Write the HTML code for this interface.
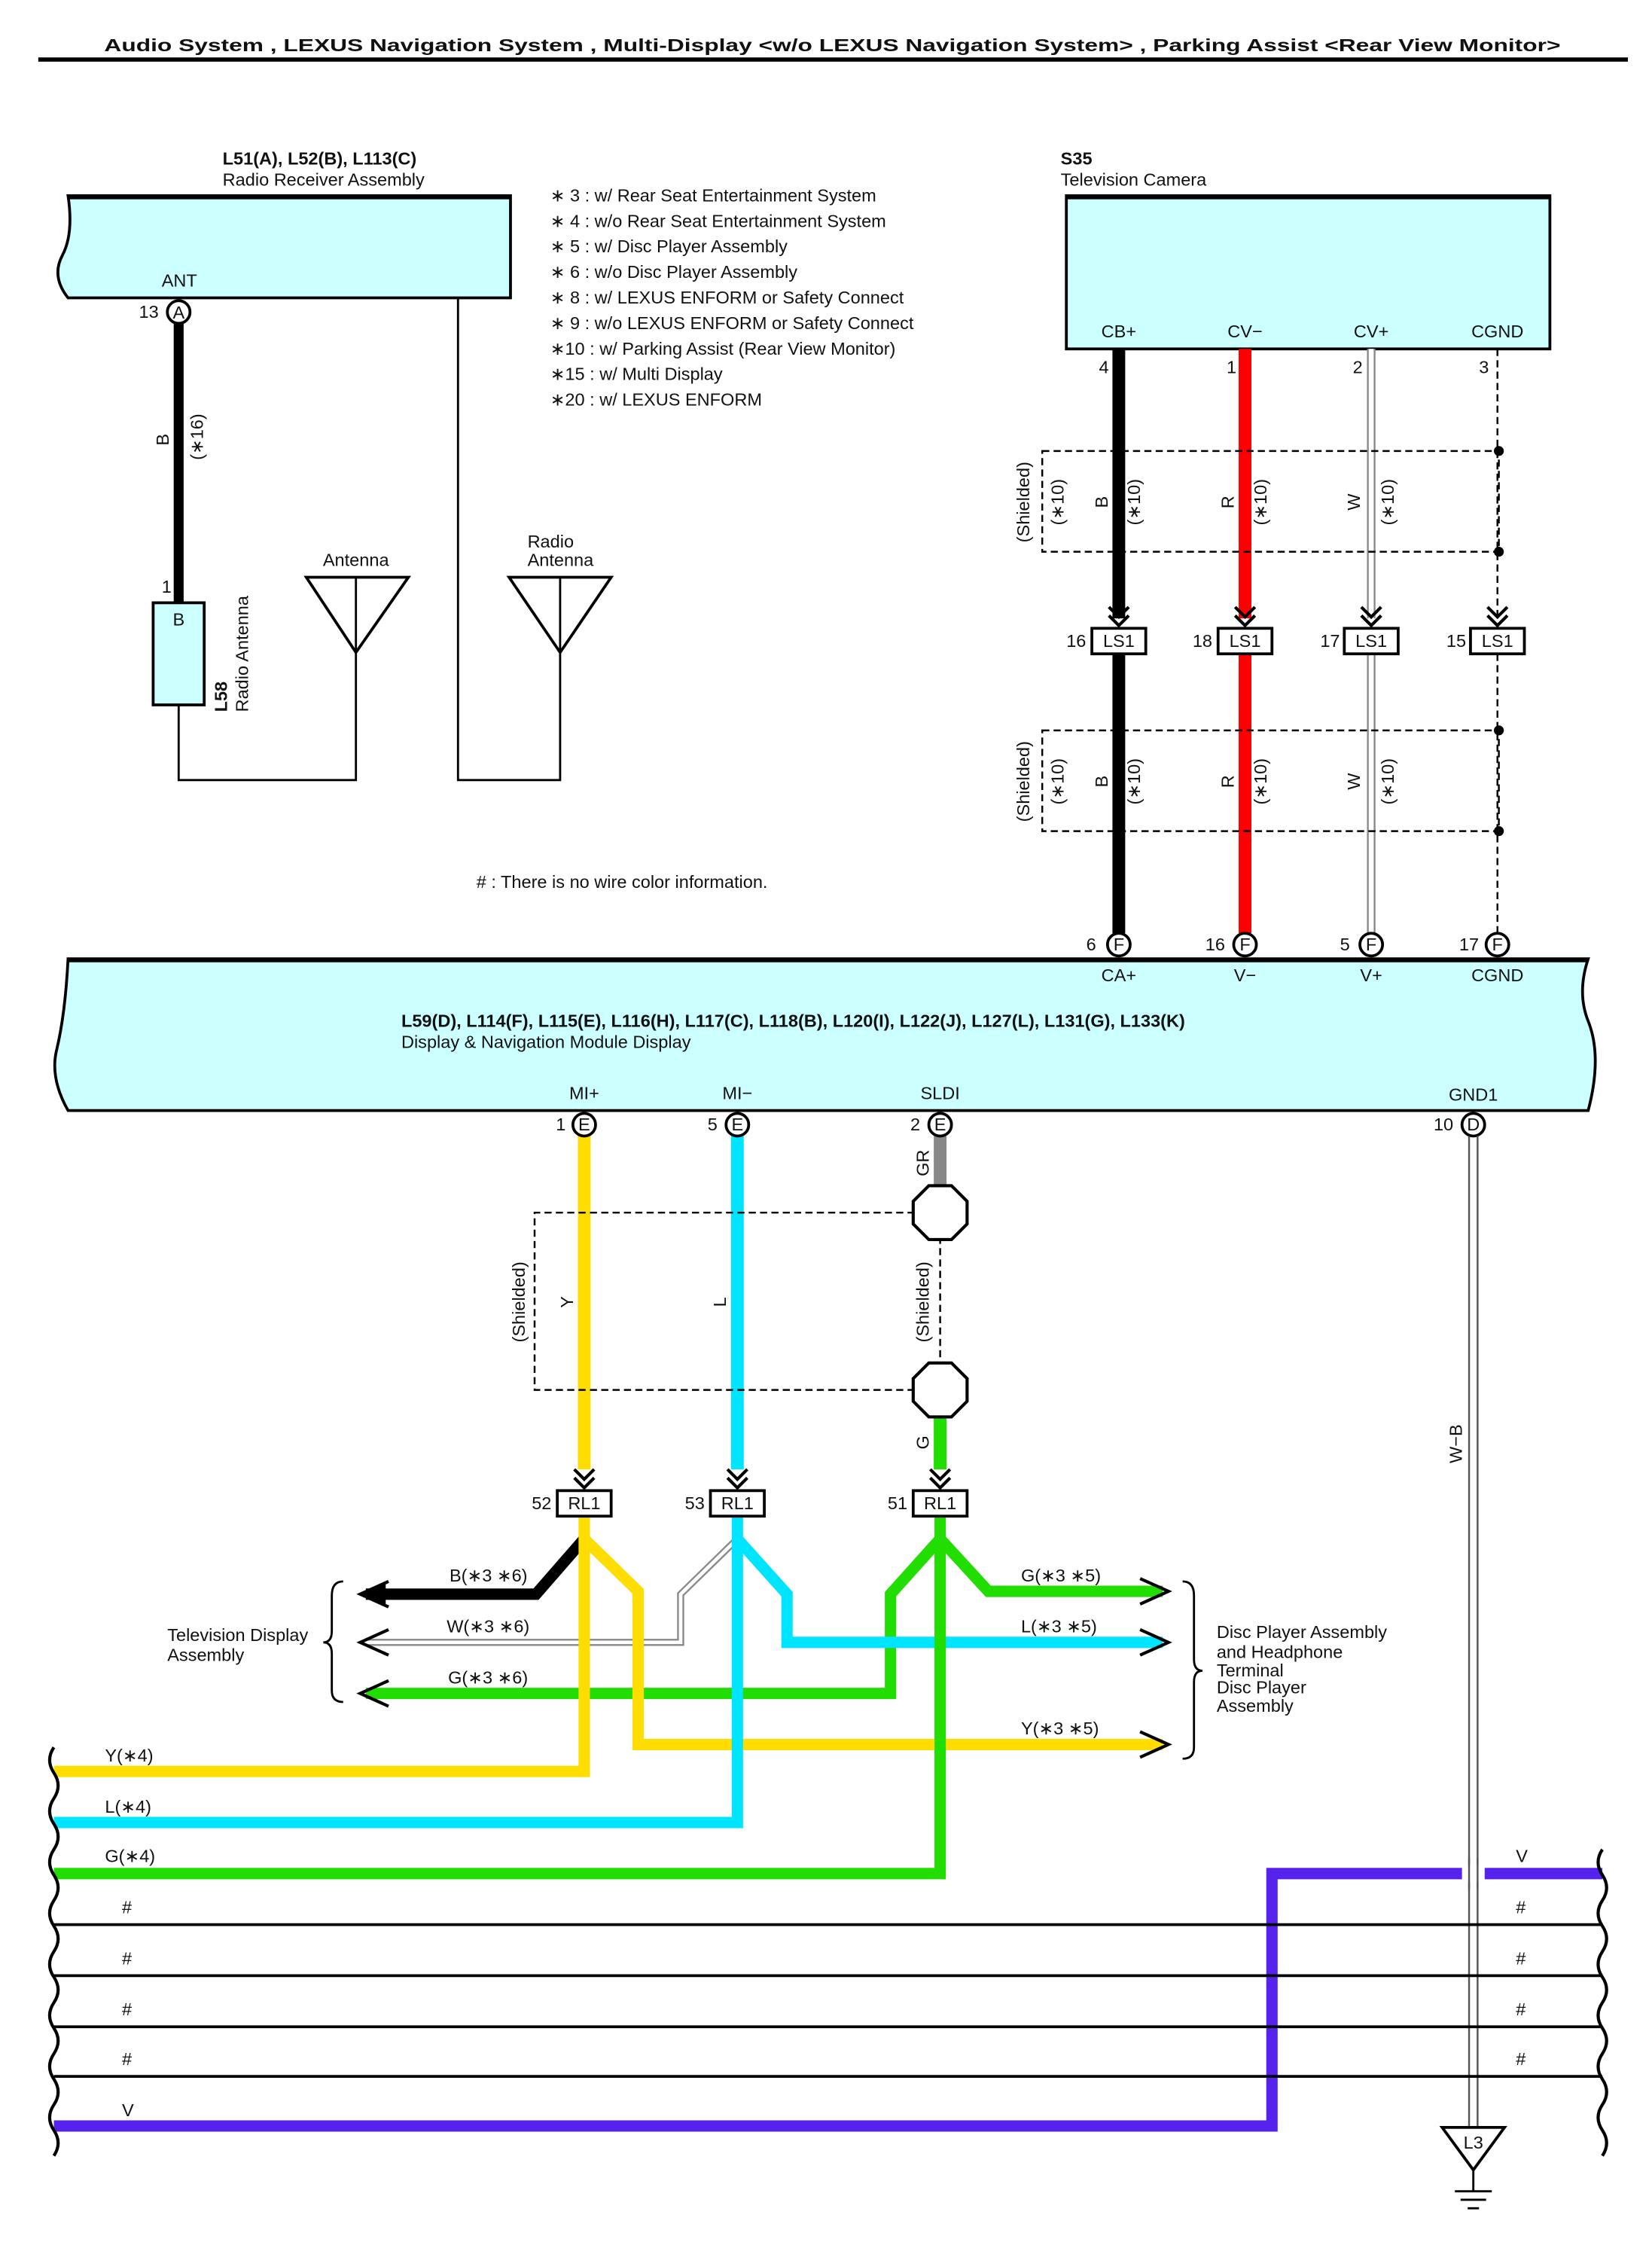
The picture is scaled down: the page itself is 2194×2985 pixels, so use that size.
<!DOCTYPE html>
<html><head><meta charset="utf-8"><style>html,body{margin:0;padding:0;background:#fff}svg{display:block}text{font-family:"Liberation Sans",sans-serif;font-size:12.5px;fill:#111}.b{font-weight:bold}</style></head><body>
<svg width="2194" height="2985" viewBox="0 0 1165 1585" xmlns="http://www.w3.org/2000/svg">
<defs>
<path id="chev" d="M-7,-12 L0,-5 L7,-12 M-7,-6 L0,1 L7,-6" fill="none" stroke="#000" stroke-width="2.2"/>
</defs>
<text x="587" y="36" class="b" font-size="15" text-anchor="middle" textLength="1027" lengthAdjust="spacingAndGlyphs">Audio System , LEXUS Navigation System , Multi-Display &lt;w/o LEXUS Navigation System&gt; , Parking Assist &lt;Rear View Monitor&gt;</text>
<line x1="27" y1="42" x2="1148" y2="42" stroke="#000" stroke-width="3"/>

<!-- Radio receiver -->
<text x="157" y="116" class="b">L51(A), L52(B), L113(C)</text>
<text x="157" y="131">Radio Receiver Assembly</text>
<path d="M48,138 L360,138 L360,210 L48,210 Q36,195 44,180 Q52,165 48,138 Z" fill="#ccffff" stroke="#000" stroke-width="2"/>
<line x1="48" y1="139" x2="360" y2="139" stroke="#000" stroke-width="3"/>
<text x="114" y="202">ANT</text>
<line x1="126" y1="228" x2="126" y2="425" stroke="#000" stroke-width="7"/>
<circle cx="126" cy="220" r="8" fill="#fff" stroke="#000" stroke-width="2"/>
<text x="126" y="224.5" text-anchor="middle" font-size="11">A</text>
<text x="98" y="224">13</text>
<text transform="translate(119,310) rotate(-90)" text-anchor="middle">B</text>
<text transform="translate(143,308) rotate(-90)" text-anchor="middle">(∗16)</text>
<text x="114" y="418">1</text>
<rect x="108" y="425" width="36" height="72" fill="#ccffff" stroke="#000" stroke-width="2"/>
<text x="126" y="441" text-anchor="middle">B</text>
<text transform="translate(160,502) rotate(-90)" class="b">L58</text>
<text transform="translate(175,502) rotate(-90)">Radio Antenna</text>
<polyline points="126,497 126,550 251,550 251,460" fill="none" stroke="#000" stroke-width="1.5"/>
<polygon points="216,407 288,407 251,460" fill="none" stroke="#000" stroke-width="2"/>
<line x1="251" y1="407" x2="251" y2="460" stroke="#000" stroke-width="1.5"/>
<text x="251" y="399" text-anchor="middle">Antenna</text>
<polyline points="323,210 323,550 395,550 395,460" fill="none" stroke="#000" stroke-width="1.5"/>
<polygon points="359,407 431,407 395,460" fill="none" stroke="#000" stroke-width="2"/>
<line x1="395" y1="407" x2="395" y2="460" stroke="#000" stroke-width="1.5"/>
<text x="372" y="386">Radio</text><text x="372" y="399">Antenna</text>

<g>
<text x="388" y="142">∗ 3 : w/ Rear Seat Entertainment System</text>
<text x="388" y="160">∗ 4 : w/o Rear Seat Entertainment System</text>
<text x="388" y="178">∗ 5 : w/ Disc Player Assembly</text>
<text x="388" y="196">∗ 6 : w/o Disc Player Assembly</text>
<text x="388" y="214">∗ 8 : w/ LEXUS ENFORM or Safety Connect</text>
<text x="388" y="232">∗ 9 : w/o LEXUS ENFORM or Safety Connect</text>
<text x="388" y="250">∗10 : w/ Parking Assist (Rear View Monitor)</text>
<text x="388" y="268">∗15 : w/ Multi Display</text>
<text x="388" y="286">∗20 : w/ LEXUS ENFORM</text>
</g>

<!-- TV camera -->
<text x="748" y="116" class="b">S35</text>
<text x="748" y="131">Television Camera</text>
<rect x="752" y="138" width="341" height="108" fill="#ccffff" stroke="#000" stroke-width="2"/>
<line x1="752" y1="139" x2="1093" y2="139" stroke="#000" stroke-width="3"/>
<text x="789" y="238" text-anchor="middle">CB+</text>
<text x="878" y="238" text-anchor="middle">CV−</text>
<text x="967" y="238" text-anchor="middle">CV+</text>
<text x="1056" y="238" text-anchor="middle">CGND</text>
<text x="775" y="263">4</text><text x="865" y="263">1</text><text x="954" y="263">2</text><text x="1043" y="263">3</text>
<!-- wires upper -->
<line x1="789" y1="246" x2="789" y2="436" stroke="#000" stroke-width="9"/>
<line x1="878" y1="246" x2="878" y2="436" stroke="#f00" stroke-width="9"/>
<line x1="967" y1="246" x2="967" y2="436" stroke="#888" stroke-width="6"/>
<line x1="967" y1="246" x2="967" y2="436" stroke="#fff" stroke-width="3.5"/>
<line x1="1056" y1="246" x2="1056" y2="436" stroke="#000" stroke-width="1.3" stroke-dasharray="5,3"/>
<!-- wires lower -->
<line x1="789" y1="461" x2="789" y2="658" stroke="#000" stroke-width="9"/>
<line x1="878" y1="461" x2="878" y2="658" stroke="#f00" stroke-width="9"/>
<line x1="967" y1="461" x2="967" y2="658" stroke="#888" stroke-width="6"/>
<line x1="967" y1="461" x2="967" y2="658" stroke="#fff" stroke-width="3.5"/>
<line x1="1056" y1="461" x2="1056" y2="658" stroke="#000" stroke-width="1.3" stroke-dasharray="5,3"/>
<!-- shields -->
<g fill="none" stroke="#000" stroke-width="1.3" stroke-dasharray="5,3">
<rect x="735" y="318" width="322" height="71"/>
<rect x="735" y="515" width="322" height="71"/>
</g>
<circle cx="1057" cy="318" r="3.5"/><circle cx="1057" cy="389" r="3.5"/>
<circle cx="1057" cy="515" r="3.5"/><circle cx="1057" cy="586" r="3.5"/>
<g text-anchor="middle">
<text transform="translate(726,354) rotate(-90)">(Shielded)</text>
<text transform="translate(750,354) rotate(-90)">(∗10)</text>
<text transform="translate(781,354) rotate(-90)">B</text>
<text transform="translate(804,354) rotate(-90)">(∗10)</text>
<text transform="translate(870,354) rotate(-90)">R</text>
<text transform="translate(893,354) rotate(-90)">(∗10)</text>
<text transform="translate(959,354) rotate(-90)">W</text>
<text transform="translate(983,354) rotate(-90)">(∗10)</text>
<text transform="translate(726,551) rotate(-90)">(Shielded)</text>
<text transform="translate(750,551) rotate(-90)">(∗10)</text>
<text transform="translate(781,551) rotate(-90)">B</text>
<text transform="translate(804,551) rotate(-90)">(∗10)</text>
<text transform="translate(870,551) rotate(-90)">R</text>
<text transform="translate(893,551) rotate(-90)">(∗10)</text>
<text transform="translate(959,551) rotate(-90)">W</text>
<text transform="translate(983,551) rotate(-90)">(∗10)</text>
</g>
<!-- LS1 -->
<g>
<use href="#chev" x="789" y="440"/><use href="#chev" x="878" y="440"/><use href="#chev" x="967" y="440"/><use href="#chev" x="1056" y="440"/>
<rect x="770" y="443" width="38" height="18" fill="#fff" stroke="#000" stroke-width="2"/>
<rect x="859" y="443" width="38" height="18" fill="#fff" stroke="#000" stroke-width="2"/>
<rect x="948" y="443" width="38" height="18" fill="#fff" stroke="#000" stroke-width="2"/>
<rect x="1037" y="443" width="38" height="18" fill="#fff" stroke="#000" stroke-width="2"/>
<g text-anchor="middle"><text x="789" y="456">LS1</text><text x="878" y="456">LS1</text><text x="967" y="456">LS1</text><text x="1056" y="456">LS1</text></g>
<text x="752" y="456">16</text><text x="841" y="456">18</text><text x="931" y="456">17</text><text x="1020" y="456">15</text>
</g>
<text x="336" y="626"># : There is no wire color information.</text>

<!-- main module -->
<path d="M48,676 L1120,676 Q1112,700 1120,720 Q1130,745 1120,783 L48,783 Q35,760 40,740 Q46,715 48,676 Z" fill="#ccffff" stroke="#000" stroke-width="2"/>
<line x1="48" y1="677" x2="1120" y2="677" stroke="#000" stroke-width="3"/>
<g>
<circle cx="789" cy="666" r="8" fill="#fff" stroke="#000" stroke-width="2"/>
<circle cx="878" cy="666" r="8" fill="#fff" stroke="#000" stroke-width="2"/>
<circle cx="967" cy="666" r="8" fill="#fff" stroke="#000" stroke-width="2"/>
<circle cx="1056" cy="666" r="8" fill="#fff" stroke="#000" stroke-width="2"/>
<g text-anchor="middle" font-size="11"><text x="789" y="670">F</text><text x="878" y="670">F</text><text x="967" y="670">F</text><text x="1056" y="670">F</text></g>
<text x="766" y="670">6</text><text x="850" y="670">16</text><text x="945" y="670">5</text><text x="1029" y="670">17</text>
<g text-anchor="middle"><text x="789" y="692">CA+</text><text x="878" y="692">V−</text><text x="967" y="692">V+</text><text x="1056" y="692">CGND</text></g>
</g>
<text x="283" y="724" class="b">L59(D), L114(F), L115(E), L116(H), L117(C), L118(B), L120(I), L122(J), L127(L), L131(G), L133(K)</text>
<text x="283" y="739">Display &amp; Navigation Module Display</text>
<g text-anchor="middle"><text x="412" y="775">MI+</text><text x="520" y="775">MI−</text><text x="663" y="775">SLDI</text><text x="1039" y="776">GND1</text></g>

<!-- lower wires -->
<line x1="412" y1="801" x2="412" y2="1036" stroke="#ffdd00" stroke-width="9"/>
<line x1="520" y1="801" x2="520" y2="1036" stroke="#00e5ff" stroke-width="9"/>
<line x1="663" y1="801" x2="663" y2="838" stroke="#888" stroke-width="9"/>
<line x1="663" y1="999" x2="663" y2="1036" stroke="#22dd00" stroke-width="9"/>
<line x1="663" y1="872" x2="663" y2="962" stroke="#000" stroke-width="1.3" stroke-dasharray="5,3"/>
<polyline points="645,855 377,855 377,980 645,980" fill="none" stroke="#000" stroke-width="1.3" stroke-dasharray="5,3"/>
<polygon points="655,836 671,836 682,847 682,863 671,874 655,874 644,863 644,847" fill="#fff" stroke="#000" stroke-width="2.2"/>
<polygon points="655,961 671,961 682,972 682,988 671,999 655,999 644,988 644,972" fill="#fff" stroke="#000" stroke-width="2.2"/>
<g text-anchor="middle">
<text transform="translate(370,918) rotate(-90)">(Shielded)</text>
<text transform="translate(404,918) rotate(-90)">Y</text>
<text transform="translate(512,918) rotate(-90)">L</text>
<text transform="translate(655,918) rotate(-90)">(Shielded)</text>
<text transform="translate(655,820) rotate(-90)">GR</text>
<text transform="translate(655,1017) rotate(-90)">G</text>
<text transform="translate(1031,1018) rotate(-90)">W−B</text>
</g>
<g>
<circle cx="412" cy="793" r="8" fill="#fff" stroke="#000" stroke-width="2"/>
<circle cx="520" cy="793" r="8" fill="#fff" stroke="#000" stroke-width="2"/>
<circle cx="663" cy="793" r="8" fill="#fff" stroke="#000" stroke-width="2"/>
<circle cx="1039" cy="793" r="8" fill="#fff" stroke="#000" stroke-width="2"/>
<g text-anchor="middle" font-size="11"><text x="412" y="797">E</text><text x="520" y="797">E</text><text x="663" y="797">E</text><text x="1039" y="797">D</text></g>
<text x="392" y="797">1</text><text x="499" y="797">5</text><text x="642" y="797">2</text><text x="1011" y="797">10</text>
</g>
<!-- GND -->
<line x1="1036" y1="801" x2="1036" y2="1500" stroke="#555" stroke-width="1.3"/>
<line x1="1042" y1="801" x2="1042" y2="1500" stroke="#555" stroke-width="1.3"/>

<!-- RL1 -->
<use href="#chev" x="412" y="1048"/><use href="#chev" x="520" y="1048"/><use href="#chev" x="663" y="1048"/>

<!-- bundle wires -->
<g fill="none" stroke-linejoin="miter">
<polyline points="412,1085 378,1124 258,1124" stroke="#000" stroke-width="8"/>
<polyline points="520,1085 480,1124 480,1158 258,1158" stroke="#888" stroke-width="5"/>
<polyline points="520,1085 480,1124 480,1158 258,1158" stroke="#fff" stroke-width="2.5"/>
<polyline points="663,1085 628,1124 628,1194 258,1194" stroke="#22dd00" stroke-width="8"/>
<polyline points="412,1069 412,1249 38,1249" stroke="#ffdd00" stroke-width="8"/>
<polyline points="412,1085 450,1122 450,1230 820,1230" stroke="#ffdd00" stroke-width="8"/>
<polyline points="520,1069 520,1285 38,1285" stroke="#00e5ff" stroke-width="8"/>
<polyline points="520,1085 555,1124 555,1158 820,1158" stroke="#00e5ff" stroke-width="8"/>
<polyline points="663,1069 663,1321 38,1321" stroke="#22dd00" stroke-width="8"/>
<polyline points="663,1085 697,1122 820,1122" stroke="#22dd00" stroke-width="8"/>
<polyline points="38,1499 897,1499 897,1321 1130,1321" stroke="#5522ee" stroke-width="8"/>
</g>
<g stroke="#000" stroke-width="2">
<line x1="38" y1="1357" x2="1130" y2="1357"/><line x1="38" y1="1393" x2="1130" y2="1393"/>
<line x1="38" y1="1429" x2="1130" y2="1429"/><line x1="38" y1="1464" x2="1130" y2="1464"/>
</g>
<rect x="1031" y="1315" width="16" height="12" fill="#fff"/>
<line x1="1036" y1="1310" x2="1036" y2="1332" stroke="#555" stroke-width="1.3"/>
<line x1="1042" y1="1310" x2="1042" y2="1332" stroke="#555" stroke-width="1.3"/>
<!-- arrowheads -->
<g fill="none" stroke="#000" stroke-width="2.2">
<polyline points="274,1115 254,1124 274,1133"/>
<polyline points="274,1149 254,1158 274,1167"/>
<polyline points="274,1185 254,1194 274,1203"/>
<polyline points="804,1113 824,1122 804,1131"/>
<polyline points="804,1149 824,1158 804,1167"/>
<polyline points="804,1221 824,1230 804,1239"/>
<path d="M242,1115 Q234,1115 234,1125 L234,1150 Q234,1158 228,1158 Q234,1158 234,1166 L234,1192 Q234,1200 242,1200" stroke-width="1.5"/>
<path d="M834,1115 Q842,1115 842,1125 L842,1170 Q842,1178 848,1178 Q842,1178 842,1186 L842,1232 Q842,1240 834,1240" stroke-width="1.5"/>
</g>
<polygon points="253,1124 272,1117 272,1131" fill="#000"/>
<g>
<rect x="393" y="1051" width="38" height="18" fill="#fff" stroke="#000" stroke-width="2"/>
<rect x="501" y="1051" width="38" height="18" fill="#fff" stroke="#000" stroke-width="2"/>
<rect x="644" y="1051" width="38" height="18" fill="#fff" stroke="#000" stroke-width="2"/>
<g text-anchor="middle"><text x="412" y="1064">RL1</text><text x="520" y="1064">RL1</text><text x="663" y="1064">RL1</text></g>
<text x="375" y="1064">52</text><text x="483" y="1064">53</text><text x="626" y="1064">51</text>
</g>
<text x="118" y="1157">Television Display</text><text x="118" y="1171">Assembly</text>
<text x="858" y="1155">Disc Player Assembly</text><text x="858" y="1169">and Headphone</text>
<text x="858" y="1182">Terminal</text><text x="858" y="1194">Disc Player</text><text x="858" y="1207">Assembly</text>
<text x="317" y="1115">B(∗3 ∗6)</text><text x="315" y="1151">W(∗3 ∗6)</text><text x="316" y="1187">G(∗3 ∗6)</text>
<text x="720" y="1115">G(∗3 ∗5)</text><text x="720" y="1151">L(∗3 ∗5)</text><text x="720" y="1223">Y(∗3 ∗5)</text>
<text x="74" y="1242">Y(∗4)</text><text x="74" y="1278">L(∗4)</text><text x="74" y="1313">G(∗4)</text>
<text x="86" y="1349">#</text><text x="86" y="1385">#</text><text x="86" y="1421">#</text><text x="86" y="1456">#</text><text x="86" y="1492">V</text>
<text x="1069" y="1313">V</text><text x="1069" y="1349">#</text><text x="1069" y="1385">#</text><text x="1069" y="1421">#</text><text x="1069" y="1456">#</text>
<!-- wavy break edges -->
<path d="M38,1232 q-6,9 0,18 q6,9 0,18 q-6,9 0,18 q6,9 0,18 q-6,9 0,18 q6,9 0,18 q-6,9 0,18 q6,9 0,18 q-6,9 0,18 q6,9 0,18 q-6,9 0,18 q6,9 0,18 q-6,9 0,18 q6,9 0,18 q-6,9 0,18 q6,9 0,18" fill="none" stroke="#000" stroke-width="2.2"/>
<path d="M1130,1304 q-6,9 0,18 q6,9 0,18 q-6,9 0,18 q6,9 0,18 q-6,9 0,18 q6,9 0,18 q-6,9 0,18 q6,9 0,18 q-6,9 0,18 q6,9 0,18 q-6,9 0,18 q6,9 0,18" fill="none" stroke="#000" stroke-width="2.2"/>
<!-- ground L3 -->
<polygon points="1017,1500 1061,1500 1039,1530" fill="#fff" stroke="#000" stroke-width="2"/>
<text x="1039" y="1515" text-anchor="middle" font-size="11">L3</text>
<g stroke="#000" stroke-width="1.5">
<line x1="1039" y1="1530" x2="1039" y2="1545"/>
<line x1="1026" y1="1545" x2="1052" y2="1545"/>
<line x1="1030" y1="1551" x2="1048" y2="1551"/>
<line x1="1035" y1="1557" x2="1043" y2="1557"/>
</g>
</svg>
</body></html>
